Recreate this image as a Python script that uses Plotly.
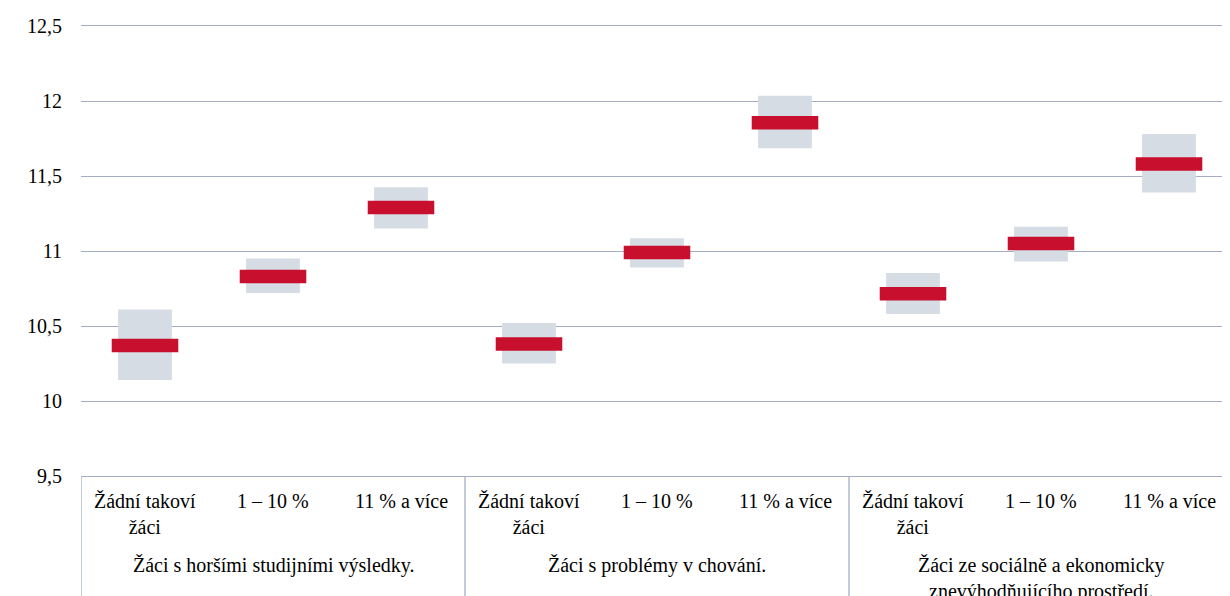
import plotly.graph_objects as go

groups = ["Žáci s horšími studijními výsledky.",
          "Žáci s problémy v chování.",
          "Žáci ze sociálně a ekonomicky<br>znevýhodňujícího prostředí."]
categories = ["Žádní takoví<br>žáci", "1 – 10 %", "11 % a více"]

means = [10.37, 10.83, 11.29, 10.38, 10.99, 11.855, 10.715, 11.05, 11.58]
lower = [10.14, 10.72, 11.15, 10.25, 10.89, 11.685, 10.58, 10.93, 11.39]
upper = [10.61, 10.95, 11.425, 10.52, 11.085, 12.035, 10.853, 11.162, 11.78]

ncat = len(categories)
xs = [g * ncat + c + 0.5 for g in range(len(groups)) for c in range(ncat)]

FONT = "Liberation Serif"
GRID = "#A3AEC6"
mark_h = 0.09
FS = 20

fig = go.Figure()
fig.add_trace(go.Bar(x=xs, base=lower, y=[u - l for u, l in zip(upper, lower)],
                     width=0.42, marker=dict(color="#D5DCE4", line=dict(width=0)),
                     hoverinfo="skip", showlegend=False))
fig.add_trace(go.Bar(x=xs, base=[m - mark_h / 2 for m in means], y=[mark_h] * len(means),
                     width=0.52, marker=dict(color="#C8102E", line=dict(width=0)),
                     showlegend=False))

# page body has an 8px margin: compensate
OFF = 8
W, H = 1230 - OFF, 596 - OFF
L, T = 81 - OFF, 26 - OFF
plot_h = 450
B = H - T - plot_h
plot_w = W - L
xmax = plot_w / 128.0

shapes = []
for g in range(len(groups) + 1):
    shapes.append(dict(type="line", xref="x", yref="paper", x0=g * ncat, x1=g * ncat,
                       y0=0, y1=-(B + 10) / plot_h, line=dict(color=GRID, width=1.3)))

annotations = []
for i, x in enumerate(xs):
    annotations.append(dict(x=x, y=-12 / plot_h, xref="x", yref="paper",
                            text=categories[i % ncat], showarrow=False,
                            yanchor="top", xanchor="center", align="center",
                            font=dict(family=FONT, size=FS, color="#000")))
for g, name in enumerate(groups):
    annotations.append(dict(x=g * ncat + ncat / 2, y=-76 / plot_h, xref="x", yref="paper",
                            text=name, showarrow=False, yanchor="top", xanchor="center",
                            align="center",
                            font=dict(family=FONT, size=FS, color="#000")))

fig.update_layout(
    width=W, height=H,
    margin=dict(l=L, r=0, t=T, b=B, pad=0),
    paper_bgcolor="white", plot_bgcolor="white",
    barmode="overlay",
    separators=", ",
    font=dict(family=FONT, size=FS, color="#000"),
    xaxis=dict(range=[0, xmax], showticklabels=False, showgrid=False, zeroline=False,
               showline=True, mirror=True, linecolor=GRID, linewidth=1.3, ticks=""),
    yaxis=dict(range=[9.5, 12.5], dtick=0.5, tick0=9.5, showgrid=True, gridcolor=GRID,
               gridwidth=1.3, zeroline=False, showline=False, ticks="",
               ticklabelstandoff=18, tickfont=dict(family=FONT, size=FS, color="#000")),
    shapes=shapes,
    annotations=annotations,
)

fig.write_html("out.html")
